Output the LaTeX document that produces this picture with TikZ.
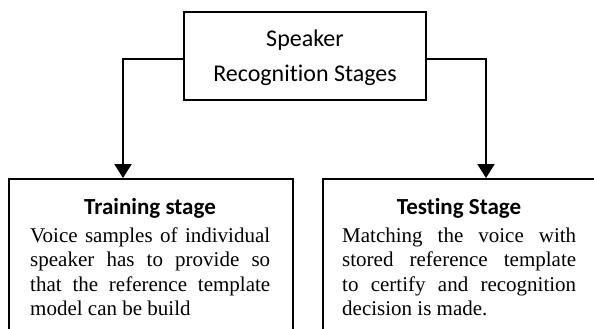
\documentclass[tikz,border=0pt]{standalone}
\usepackage{fontspec}
\setmainfont{Liberation Serif}
\newfontfamily\calib[Ligatures=NoCommon]{Carlito}
\usetikzlibrary{arrows.meta}

\tikzset{
  stagebox/.style={draw, line width=2pt, inner sep=0pt, anchor=north west},
  link/.style={line width=2.2pt, -{Triangle[width=17pt,length=14pt]}},
  headtext/.style={inner sep=0pt, anchor=base, font=\calib\bfseries\fontsize{23}{27}\selectfont},
  bodytext/.style={inner sep=0pt, anchor=base west, align=justify,
    font=\fontsize{21}{24.5}\selectfont}
}

\begin{document}
\begin{tikzpicture}[x=1pt, y=-1pt]
\useasboundingbox (0,0) rectangle (594,329);

% root box
\node[draw, line width=2pt, minimum width=242pt, minimum height=88pt, inner sep=0pt,
      text depth=0pt, align=center, font=\calib\fontsize{24}{35}\selectfont]
  (root) at (305,56) {Speaker\\Recognition Stages};

% the two stage boxes (their lower edges run past the page)
\node[stagebox, minimum width=284pt, minimum height=170pt] (train) at (8,178) {};
\node[stagebox, minimum width=274pt, minimum height=170pt] (test) at (322,178) {};

% entry points of the arrows on the stage boxes
\coordinate (trainin) at ([xshift=115pt]train.north west);
\coordinate (testin) at ([xshift=164pt]test.north west);

\draw[link] ([yshift=-3pt]root.west) -| (trainin);
\draw[link] ([yshift=-3pt]root.east) -| (testin);

% training stage
\node[headtext] (trainhead) at (150,214) {Training stage};
\node[bodytext, text width=240pt] (trainbody) at (30,242)
  {Voice samples of individual\linebreak speaker has to provide so\linebreak
   that the reference template\linebreak model can be build};

% testing stage
\node[headtext] (testhead) at (459,214) {Testing Stage};
\node[bodytext, text width=234pt] (testbody) at (342,242)
  {Matching the voice with\linebreak stored reference template\linebreak
   to certify and recognition\linebreak decision is made.};
\end{tikzpicture}
\end{document}
